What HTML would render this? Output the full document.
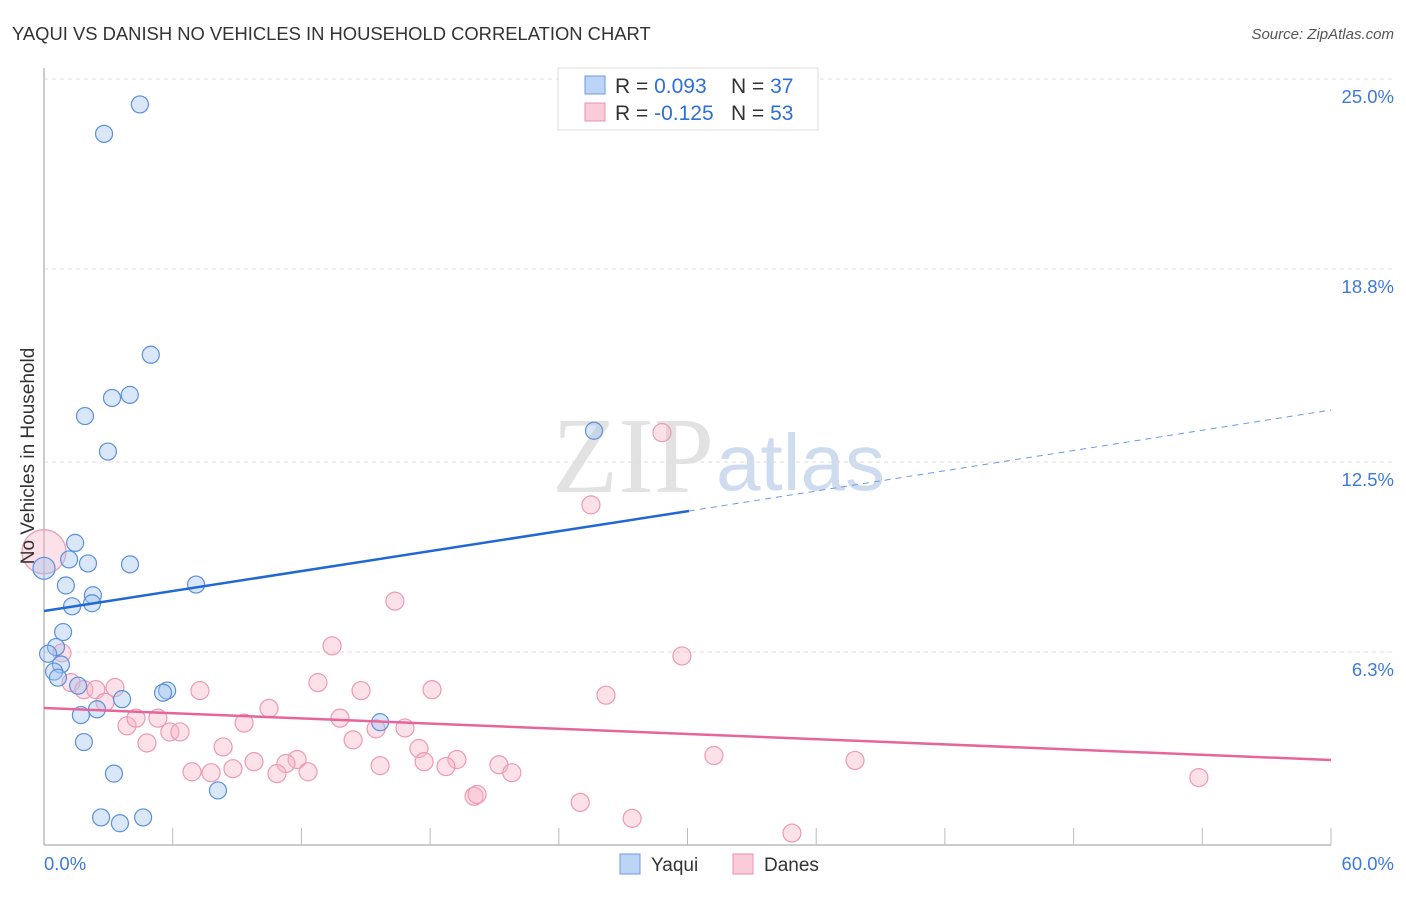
<!DOCTYPE html>
<html><head><meta charset="utf-8"><style>
body{margin:0;background:#fff;font-family:"Liberation Sans",sans-serif}
</style></head><body>
<svg width="1406" height="892" xmlns="http://www.w3.org/2000/svg" font-family="Liberation Sans, sans-serif">
<text x="12" y="40" font-size="18.4" fill="#333">YAQUI VS DANISH NO VEHICLES IN HOUSEHOLD CORRELATION CHART</text>
<text x="1394" y="39" font-size="15" fill="#555" font-style="italic" text-anchor="end">Source: ZipAtlas.com</text>
<text x="714" y="492" font-size="108" fill="#e2e2e2" text-anchor="end" font-family="Liberation Serif, serif">ZIP</text>
<text x="716" y="490" font-size="80" fill="#cfdcf0">atlas</text>
<g id="grid"></g><g id="axes"></g><g id="marks"></g>
<text transform="translate(34,456) rotate(-90)" font-size="19" fill="#333" text-anchor="middle">No Vehicles in Household</text>
<g>
<rect x="558" y="68" width="260" height="62" fill="#fff" stroke="#ddd"/>
<rect x="585" y="76" width="20" height="18" fill="#bcd4f6" stroke="#6a9be0"/>
<rect x="585" y="103" width="20" height="18" fill="#fbcbd9" stroke="#ec8fac"/>
<text x="615" y="93" font-size="21" fill="#333">R = <tspan fill="#2e6fd8">0.093</tspan><tspan x="731">N = </tspan><tspan fill="#2e6fd8">37</tspan></text>
<text x="615" y="120" font-size="21" fill="#333">R = <tspan fill="#2e6fd8">-0.125</tspan><tspan x="731">N = </tspan><tspan fill="#2e6fd8">53</tspan></text>
</g>
<g>
<rect x="620" y="854" width="20" height="20" fill="#bcd4f6" stroke="#6a9be0"/>
<text x="651" y="871" font-size="19" fill="#333">Yaqui</text>
<rect x="733" y="854" width="20" height="20" fill="#fbcbd9" stroke="#ec8fac"/>
<text x="764" y="871" font-size="19" fill="#333">Danes</text>
</g>
</svg>
<script>
const yTicks=[25.0,18.8,12.5,6.3];
const yTickLabels=["25.0%","18.8%","12.5%","6.3%"];
const xTickLabels=["0.0%","60.0%"];
const yaquiX=[4.47,2.80,4.98,4.0,3.17,1.91,2.98,25.64,1.45,1.17,2.05,4.01,0,1.02,7.09,2.28,1.31,2.24,0.89,0.56,0.19,0.79,0.47,0.65,1.59,5.74,5.55,3.64,2.47,1.72,15.67,1.86,3.26,8.11,2.66,3.54,4.62];
const yaquiY=[24.17,23.21,16.0,14.69,14.59,14.0,12.84,13.52,9.86,9.32,9.19,9.16,9.03,8.47,8.50,8.15,7.79,7.89,6.95,6.46,6.24,5.89,5.66,5.46,5.20,5.04,4.97,4.76,4.43,4.24,4.01,3.36,2.33,1.78,0.90,0.71,0.90];
const danesX=[0,0.84,25.5,28.81,16.36,13.43,29.74,1.26,1.86,2.42,3.31,7.27,12.77,14.78,18.09,26.2,2.84,10.49,3.87,4.29,5.31,5.87,6.34,9.33,13.8,14.41,15.48,16.83,4.8,8.35,17.48,19.25,17.72,11.8,11.28,9.79,8.81,6.9,7.79,10.86,12.31,15.67,18.74,21.21,21.81,31.23,37.81,20.05,20.19,25.0,27.42,34.87,53.84];
const danesY=[9.57,6.27,11.1,13.46,7.96,6.50,6.17,5.30,5.07,5.07,5.14,5.04,5.30,5.04,5.07,4.89,4.66,4.46,3.89,4.14,4.14,3.69,3.69,3.98,4.14,3.43,3.79,3.82,3.33,3.20,3.15,2.79,2.72,2.79,2.66,2.72,2.49,2.39,2.36,2.33,2.39,2.59,2.56,2.62,2.36,2.92,2.76,1.59,1.65,1.39,0.87,0.39,2.20];
const NS="http://www.w3.org/2000/svg";
const sx=v=>44+v/60*1287, sy=v=>845-v/25*766;
function mk(t,a,p){const e=document.createElementNS(NS,t);for(const k in a)e.setAttribute(k,a[k]);document.getElementById(p).appendChild(e);return e;}
yTicks.forEach((t,i)=>{
 const l=mk('line',{x1:44,x2:1394,y1:sy(t),y2:sy(t),stroke:'#ddd','stroke-dasharray':'4,4'},'grid');
 
 
 const tx=mk('text',{x:1394,y:sy(t)+24,'font-size':18.5,fill:'#3d7ad8','text-anchor':'end'},'axes');
 tx.textContent=yTickLabels[i];
 
 
});
mk('line',{x1:44,x2:44,y1:68,y2:845,stroke:'#bbb','stroke-width':1.5},'axes');
mk('line',{x1:44,x2:1331,y1:845,y2:845,stroke:'#bbb','stroke-width':1.5},'axes');
for(let i=0;i<=10;i++){const x=44+i*128.7;mk('line',{x1:x,x2:x,y1:828,y2:845,stroke:'#bbb'},'axes');}
[[0,'start',44],[60,'end',1394]].forEach((d,i)=>{const t=mk('text',{x:d[2],y:870,'font-size':18.5,fill:'#3d7ad8','text-anchor':d[1]},'axes');t.textContent=xTickLabels[i];
 
 });
danesX.forEach((x,i)=>{const c=mk('circle',{cx:sx(x),cy:sy(danesY[i]),r:i==0?22:9,fill:'rgba(248,180,200,0.4)',stroke:'#ec9ab3','stroke-width':1.2},'marks');
 
 });
yaquiX.forEach((x,i)=>{const c=mk('circle',{cx:sx(x),cy:sy(yaquiY[i]),r:i==12?11:8.5,fill:'rgba(160,195,240,0.4)',stroke:'#5b90db','stroke-width':1.2},'marks');
 
 });
let l=mk('line',{x1:44,y1:611,x2:689,y2:511,stroke:'#2068d4','stroke-width':2.5},'marks');


l=mk('line',{x1:689,y1:511,x2:1331,y2:410,stroke:'#6a9be0','stroke-width':1,'stroke-dasharray':'6,5'},'marks');


l=mk('line',{x1:44,y1:708,x2:1331,y2:760,stroke:'#e6669a','stroke-width':2.5},'marks');


</script>
</body></html>
